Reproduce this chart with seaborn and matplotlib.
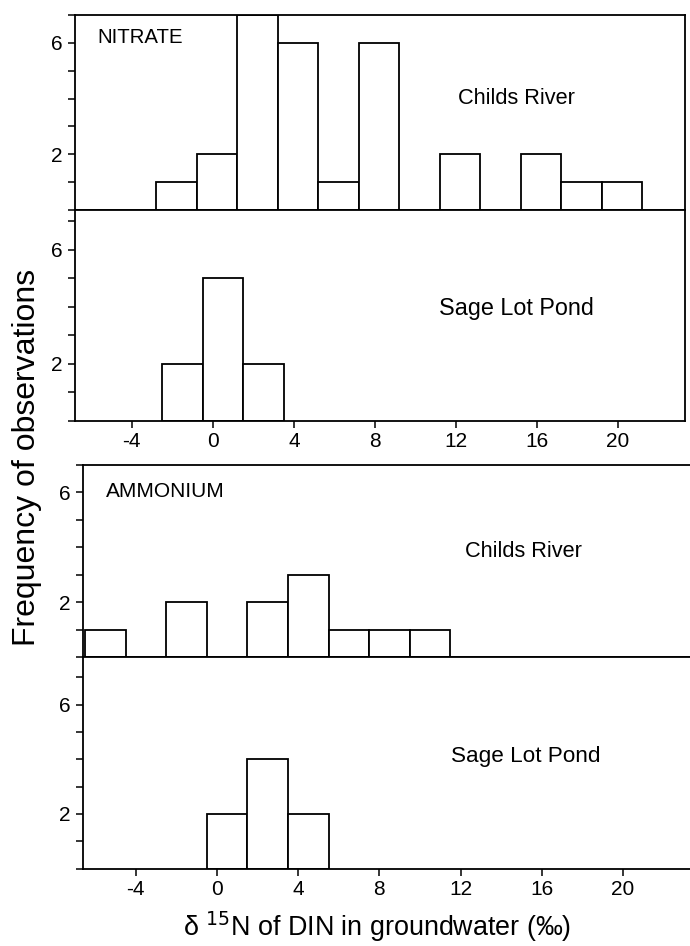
import matplotlib
matplotlib.use("Agg")
import matplotlib.pyplot as plt
import seaborn as sns
import pandas as pd

# ---- data (bin centres and counts) ----
nitrate_childs_x = [-1.8, 0.2, 2.2, 4.2, 6.2, 8.2, 12.2, 16.2, 18.2, 20.2]
nitrate_childs_n = [1, 2, 7, 6, 1, 6, 2, 2, 1, 1]
nitrate_sage_x = [-1.5, 0.5, 2.5]
nitrate_sage_n = [2, 5, 2]
ammonium_childs_x = [-5.5, -1.5, 2.5, 4.5, 6.5, 8.5, 10.5]
ammonium_childs_n = [1, 2, 2, 3, 1, 1, 1]
ammonium_sage_x = [0.5, 2.5, 4.5]
ammonium_sage_n = [2, 4, 2]

x_ticks = [-4, 0, 4, 8, 12, 16, 20]
y_labeled = [2, 6]

sns.set_theme(style="ticks")
plt.rcParams["font.family"] = ["Liberation Sans", "DejaVu Sans"]
plt.rcParams["axes.unicode_minus"] = False
for k in ("text.color", "axes.labelcolor", "xtick.color", "ytick.color",
          "axes.edgecolor"):
    plt.rcParams[k] = "black"

W, H = 690, 946
fig = plt.figure(figsize=(W / 100, H / 100), dpi=100)

def rect(l, r, t, b):
    return [l / W, 1 - b / H, (r - l) / W, (b - t) / H]

ax1 = fig.add_axes(rect(75, 685, 15, 210))
ax2 = fig.add_axes(rect(75, 685, 210, 421))
ax3 = fig.add_axes(rect(83, 690, 465, 657))
ax4 = fig.add_axes(rect(83, 690, 657, 868.5))

panels = [
    (ax1, nitrate_childs_x, nitrate_childs_n, (-6.8, 23.3), 7.0),
    (ax2, nitrate_sage_x, nitrate_sage_n, (-6.8, 23.3), 7.4),
    (ax3, ammonium_childs_x, ammonium_childs_n, (-6.6, 23.3), 7.0),
    (ax4, ammonium_sage_x, ammonium_sage_n, (-6.6, 23.3), 7.75),
]

for ax, xs, ns, xl, ytop in panels:
    df = pd.DataFrame({"x": xs, "n": ns})
    sns.barplot(data=df, x="x", y="n", native_scale=True, orient="x",
                width=1.0, color="white", edgecolor="black", linewidth=1.3,
                errorbar=None, ax=ax)
    ax.set_xlim(*xl)
    ax.set_ylim(0, ytop)
    ax.set_xlabel("")
    ax.set_ylabel("")
    yt = list(range(0, int(ytop) + 1))
    ax.set_yticks(yt)
    ax.set_yticklabels([str(v) if v in y_labeled else "" for v in yt])
    ax.set_xticks(x_ticks)
    ax.set_xticklabels([str(v) for v in x_ticks])
    ax.tick_params(axis="y", direction="out", length=5, width=1.1,
                   labelsize=15, pad=4, colors="black")
    ax.tick_params(axis="x", direction="out", length=5, width=1.1,
                   labelsize=15, pad=3, colors="black")
    for s in ax.spines.values():
        s.set_linewidth(1.3)
        s.set_color("black")
    ax.set_facecolor("white")

for ax in (ax1, ax3):
    ax.tick_params(axis="x", bottom=False, labelbottom=False)
for ax in (ax3, ax4):
    ax.spines["right"].set_visible(False)

ax1.text(-5.72, 6.2, "NITRATE", fontsize=14.7, ha="left", va="center")
ax1.text(15.0, 4.0, "Childs River", fontsize=15.7, ha="center", va="center")
ax2.text(15.0, 3.95, "Sage Lot Pond", fontsize=16.8, ha="center", va="center")
ax3.text(-5.47, 6.05, "AMMONIUM", fontsize=15, ha="left", va="center")
ax3.text(15.1, 3.86, "Childs River", fontsize=15.7, ha="center", va="center")
ax4.text(15.2, 4.12, "Sage Lot Pond", fontsize=16.2, ha="center", va="center")

fig.text(27 / W, 1 - 457 / H, "Frequency of observations", rotation=90,
         fontsize=23, ha="center", va="center")
fig.text(377 / W, 1 - 927 / H, "δ $^{15}$N of DIN in groundwater (‰)",
         fontsize=19.4, ha="center", va="center")

fig.savefig("out.png", dpi=100, facecolor="white")
